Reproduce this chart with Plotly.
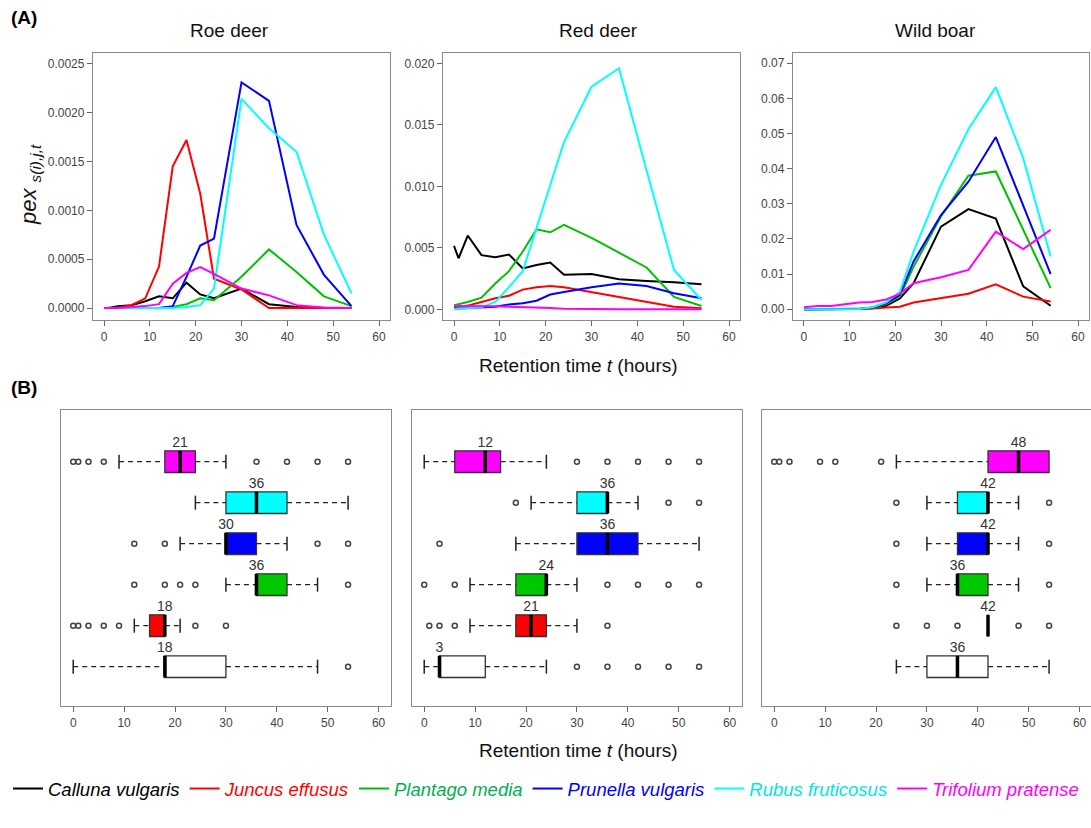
import plotly.graph_objects as go

W, H = 1091, 828
FONT = "Liberation Sans, Arial, sans-serif"

# ---------------- data ----------------
species = ["Calluna vulgaris", "Juncus effusus", "Plantago media",
           "Prunella vulgaris", "Rubus fruticosus", "Trifolium pratense"]
line_colors = ["#000000", "#FF0000", "#00C000", "#0000FF", "#00FFFF", "#FF00FF"]
box_fills = ["#FFFFFF", "#FF0000", "#00C800", "#0000FF", "#00FFFF", "#FF00FF"]
legend_text_colors = ["#000000", "#FF0000", "#00B050", "#0000FF", "#00E5E5", "#FF00FF"]
animals = ["Roe deer", "Red deer", "Wild boar"]

times = [0, 1, 3, 6, 9, 12, 15, 18, 21, 24, 30, 36, 42, 48, 54]

# (A) pex curves
roe_calluna = [0, 0, 0.00002, 0.00003, 0.00007, 0.00012, 0.0001, 0.00026, 0.00014, 0.0001, 0.0002, 0.00004, 0.00001, 0, 0]
roe_juncus = [0, 0, 0, 0.00003, 0.0001, 0.000425, 0.00145, 0.00172, 0.00117, 0.0003, 0.00019, 0, 0, 0, 0]
roe_plantago = [0, 0, 0, 0, 0, 0, 0.00001, 0.00004, 0.0001, 0.00008, 0.00032, 0.0006, 0.00037, 0.00012, 0.00002]
roe_prunella = [0, 0, 0, 0, 0, 0, 0.00002, 0.00032, 0.00064, 0.00071, 0.00231, 0.00212, 0.00085, 0.00034, 0.00002]
roe_rubus = [0, 0, 0, 0, 0, 0, 0, 0.00001, 0.00003, 0.0002, 0.00214, 0.00184, 0.0016, 0.00075, 0.00015]
roe_trifolium = [0, 0, 0, 0.00001, 0.00002, 0.00004, 0.00025, 0.00036, 0.00042, 0.00035, 0.0002, 0.00013, 0.00003, 0.000005, 0]

red_calluna = [0.00515, 0.00415, 0.006, 0.0044, 0.00423, 0.00445, 0.00333, 0.0036, 0.0038, 0.0028, 0.00287, 0.00244, 0.0023, 0.0022, 0.00203]
red_juncus = [0.00016, 0.0002, 0.0003, 0.0006, 0.0009, 0.0011, 0.0016, 0.0018, 0.0019, 0.0018, 0.0014, 0.001, 0.00054, 0.0002, 0.00008]
red_plantago = [0.00033, 0.0004, 0.0006, 0.00095, 0.0021, 0.0031, 0.0047, 0.0065, 0.00626, 0.00686, 0.0058, 0.0046, 0.0034, 0.001, 0.00027]
red_prunella = [0.00005, 0.00006, 0.0001, 0.00016, 0.0002, 0.0004, 0.0005, 0.0007, 0.0012, 0.0014, 0.0018, 0.0021, 0.0019, 0.0013, 0.0009]
red_rubus = [0.00003, 0.00005, 0.0001, 0.00016, 0.0006, 0.0018, 0.0031, 0.0066, 0.0101, 0.0136, 0.0181, 0.0196, 0.0113, 0.0032, 0.00076]
red_trifolium = [0.00027, 0.00027, 0.00027, 0.00027, 0.00025, 0.0002, 0.00018, 0.00013, 0.0001, 0.00005, 0, 0, 0, 0, 0]

boar_calluna = [0, 0, 0, 0, 0, 0.0001, 0.0003, 0.001, 0.0031, 0.0074, 0.0235, 0.0285, 0.0258, 0.0065, 0.001]
boar_juncus = [0, 0, 0, 0, 0, 0, 0.0002, 0.0005, 0.0007, 0.0019, 0.0031, 0.0044, 0.0071, 0.0036, 0.0022]
boar_plantago = [0, 0, 0, 0, 0, 0.0001, 0.0004, 0.0015, 0.0036, 0.0121, 0.0264, 0.038, 0.0392, 0.0226, 0.006]
boar_prunella = [0, 0, 0, 0, 0, 0.0001, 0.0005, 0.0017, 0.0041, 0.0136, 0.0268, 0.0363, 0.049, 0.0297, 0.01]
boar_rubus = [0, 0, 0, 0, 0, 0.0001, 0.0006, 0.002, 0.005, 0.0164, 0.0354, 0.0512, 0.0632, 0.043, 0.015]
boar_trifolium = [0.0006, 0.0007, 0.0009, 0.0009, 0.0014, 0.0019, 0.0021, 0.0028, 0.0044, 0.0074, 0.0091, 0.0112, 0.0221, 0.0171, 0.0226]

roe_pex = [roe_calluna, roe_juncus, roe_plantago, roe_prunella, roe_rubus, roe_trifolium]
red_pex = [red_calluna, red_juncus, red_plantago, red_prunella, red_rubus, red_trifolium]
boar_pex = [boar_calluna, boar_juncus, boar_plantago, boar_prunella, boar_rubus, boar_trifolium]

y_tick_step = [0.0005, 0.005, 0.01]
y_tick_max = [0.0025, 0.020, 0.07]
y_tick_fmt = [".4f", ".3f", ".2f"]
y_ranges = [[-0.000122, 0.00261], [-0.00087, 0.02084], [-0.00305, 0.0729]]

# (B) retention time box statistics (order: Calluna, Juncus, Plantago, Prunella, Rubus, Trifolium)
roe_q1 = [18, 15, 36, 30, 30, 18]
roe_med = [18, 18, 36, 30, 36, 21]
roe_q3 = [30, 18, 42, 36, 42, 24]
roe_lo = [0, 12, 30, 21, 24, 9]
roe_hi = [48, 21, 48, 42, 54, 30]
roe_out = [[54], [0, 1, 3, 6, 9, 24, 30], [12, 18, 21, 24, 54], [12, 18, 48, 54], [], [0, 1, 3, 6, 36, 42, 48, 54]]

red_q1 = [3, 18, 18, 30, 30, 6]
red_med = [3, 21, 24, 36, 36, 12]
red_q3 = [12, 24, 24, 42, 36, 15]
red_lo = [0, 9, 9, 18, 21, 0]
red_hi = [24, 30, 30, 54, 42, 24]
red_out = [[30, 36, 42, 48, 54], [1, 3, 6, 36], [0, 6, 36, 42, 48, 54], [3], [18, 48, 54], [30, 36, 42, 48, 54]]

boar_q1 = [30, 42, 36, 36, 36, 42]
boar_med = [36, 42, 36, 42, 42, 48]
boar_q3 = [42, 42, 42, 42, 42, 54]
boar_lo = [24, 42, 30, 30, 30, 24]
boar_hi = [54, 42, 48, 48, 48, 54]
boar_out = [[], [24, 30, 36, 48, 54], [24, 54], [24, 54], [24, 54], [0, 1, 3, 9, 12, 21]]

box_stats = [
    (roe_q1, roe_med, roe_q3, roe_lo, roe_hi, roe_out),
    (red_q1, red_med, red_q3, red_lo, red_hi, red_out),
    (boar_q1, boar_med, boar_q3, boar_lo, boar_hi, boar_out),
]
x_ticks = [0, 10, 20, 30, 40, 50, 60]

# ---------------- layout helpers ----------------
def xd(a, b):
    return [a / W, min(b / W, 1.0)]

def yd(top, bottom):
    return [1 - bottom / H, 1 - top / H]

top_x = [(93, 390), (443, 740), (793, 1089)]
bot_x = [(61, 391), (412, 742), (762, 1091)]
top_y = (53, 320)
bot_y = (410, 706)

fig = go.Figure()

# ---- (A) line panels ----
for p, pex in enumerate([roe_pex, red_pex, boar_pex]):
    ax = "" if p == 0 else str(p + 1)
    for s in range(6):
        name = '<i><span style="color:%s">%s</span></i>' % (legend_text_colors[s], species[s])
        fig.add_trace(go.Scatter(
            x=times, y=pex[s], mode="lines",
            line=dict(color=line_colors[s], width=2),
            name=name, legendgroup=species[s], showlegend=(p == 0),
            xaxis="x" + ax, yaxis="y" + ax, hoverinfo="skip"))

# ---- (B) box panels ----
BW = 0.53
for p, (q1, med, q3, lo, hi, out) in enumerate(box_stats):
    ax = str(p + 4)
    for s in range(6):
        pos = s + 1
        fig.add_trace(go.Box(
            y=[pos], q1=[q1[s]], median=[med[s]], q3=[q3[s]],
            lowerfence=[q1[s]], upperfence=[q3[s]],
            orientation="h", width=BW, fillcolor=box_fills[s],
            line=dict(color="#333333", width=1.3), boxpoints=False,
            showlegend=False, xaxis="x" + ax, yaxis="y" + ax, hoverinfo="skip"))
        # dashed whiskers
        wx, wy, cx, cy = [], [], [], []
        if lo[s] < q1[s]:
            wx += [lo[s], q1[s], None]
            wy += [pos, pos, None]
            cx.append(lo[s]); cy.append(pos)
        if hi[s] > q3[s]:
            wx += [q3[s], hi[s], None]
            wy += [pos, pos, None]
            cx.append(hi[s]); cy.append(pos)
        if wx:
            fig.add_trace(go.Scatter(
                x=wx, y=wy, mode="lines",
                line=dict(color="#222222", width=1.3, dash="5px,4px"),
                showlegend=False, xaxis="x" + ax, yaxis="y" + ax, hoverinfo="skip"))
            fig.add_trace(go.Scatter(
                x=cx, y=cy, mode="markers",
                marker=dict(symbol="line-ns", size=10, line=dict(color="#222222", width=1.5)),
                showlegend=False, xaxis="x" + ax, yaxis="y" + ax, hoverinfo="skip"))
        # median bar
        fig.add_trace(go.Scatter(
            x=[med[s], med[s]], y=[pos - BW / 2, pos + BW / 2], mode="lines",
            line=dict(color="#000000", width=3.5),
            showlegend=False, xaxis="x" + ax, yaxis="y" + ax, hoverinfo="skip"))
        # outliers
        if out[s]:
            fig.add_trace(go.Scatter(
                x=out[s], y=[pos] * len(out[s]), mode="markers",
                marker=dict(symbol="circle-open", size=5, color="#444444", line=dict(width=1.5)),
                showlegend=False, xaxis="x" + ax, yaxis="y" + ax, hoverinfo="skip"))
        # median label
        fig.add_trace(go.Scatter(
            x=[med[s]], y=[pos + BW / 2], mode="text", text=[str(med[s])],
            textposition="top center", textfont=dict(size=14, color="#333333", family=FONT),
            showlegend=False, xaxis="x" + ax, yaxis="y" + ax, hoverinfo="skip"))

# ---- axes ----
frame = dict(showline=True, linecolor="#8a8a8a", linewidth=1.3, mirror=True,
             showgrid=False, zeroline=False)
tickfont = dict(size=12, color="#444444", family=FONT)
layout = dict(
    width=W, height=H, margin=dict(l=0, r=0, t=0, b=0),
    paper_bgcolor="white", plot_bgcolor="white",
    font=dict(family=FONT),
)
for p in range(3):
    k = "" if p == 0 else str(p + 1)
    layout["xaxis" + k] = dict(domain=xd(*top_x[p]), range=[-2.4, 62.4], anchor="y" + k,
                               tickvals=x_ticks, ticks="outside", ticklen=5, tickcolor="#666666",
                               tickfont=tickfont, **frame)
    n = int(round(y_tick_max[p] / y_tick_step[p]))
    tv = [round(i * y_tick_step[p], 6) for i in range(n + 1)]
    layout["yaxis" + k] = dict(domain=yd(*top_y), range=y_ranges[p], anchor="x" + k,
                               tickvals=tv, tickformat=y_tick_fmt[p], ticks="outside", ticklen=5,
                               tickcolor="#666666", tickfont=tickfont, **frame)
for p in range(3):
    k = str(p + 4)
    a, b = bot_x[p]
    span = (b - a) / 5.09
    layout["xaxis" + k] = dict(domain=xd(a, b), range=[-2.4, -2.4 + span], anchor="y" + k,
                               tickvals=x_ticks, ticks="outside", ticklen=5, tickcolor="#666666",
                               tickfont=tickfont, **frame)
    layout["yaxis" + k] = dict(domain=yd(*bot_y), range=[0.04, 7.26], anchor="x" + k,
                               showticklabels=False, ticks="", **frame)

layout["legend"] = dict(orientation="h", x=8 / W, xanchor="left", y=1 - 789 / H, yanchor="middle",
                        font=dict(size=18.5, family=FONT), bgcolor="rgba(0,0,0,0)",
                        itemwidth=30, tracegroupgap=0)

ann = []
title_x = [229, 598, 935]
for p in range(3):
    ann.append(dict(text=animals[p], x=title_x[p] / W, y=1 - 30 / H, xref="paper", yref="paper",
                    showarrow=False, font=dict(size=19, color="#111111", family=FONT),
                    xanchor="center", yanchor="middle"))
ann.append(dict(text="<b>(A)</b>", x=9 / W, y=1 - 18 / H, xref="paper", yref="paper", showarrow=False,
                font=dict(size=19, color="#000000", family=FONT), xanchor="left", yanchor="middle"))
ann.append(dict(text="<b>(B)</b>", x=9 / W, y=1 - 387 / H, xref="paper", yref="paper", showarrow=False,
                font=dict(size=19, color="#000000", family=FONT), xanchor="left", yanchor="middle"))
ann.append(dict(text="<i>pex</i> <sub><i>s(i),j,t</i></sub>", x=30 / W, y=1 - 185 / H,
                xref="paper", yref="paper", showarrow=False, textangle=-90,
                font=dict(size=22, color="#111111", family=FONT), xanchor="center", yanchor="middle"))
for yy in (366, 750):
    ann.append(dict(text="Retention time <i>t</i> (hours)", x=578 / W, y=1 - yy / H,
                    xref="paper", yref="paper", showarrow=False,
                    font=dict(size=19, color="#111111", family=FONT), xanchor="center", yanchor="middle"))
layout["annotations"] = ann

fig.update_layout(**layout)
fig.write_html("out.html")
